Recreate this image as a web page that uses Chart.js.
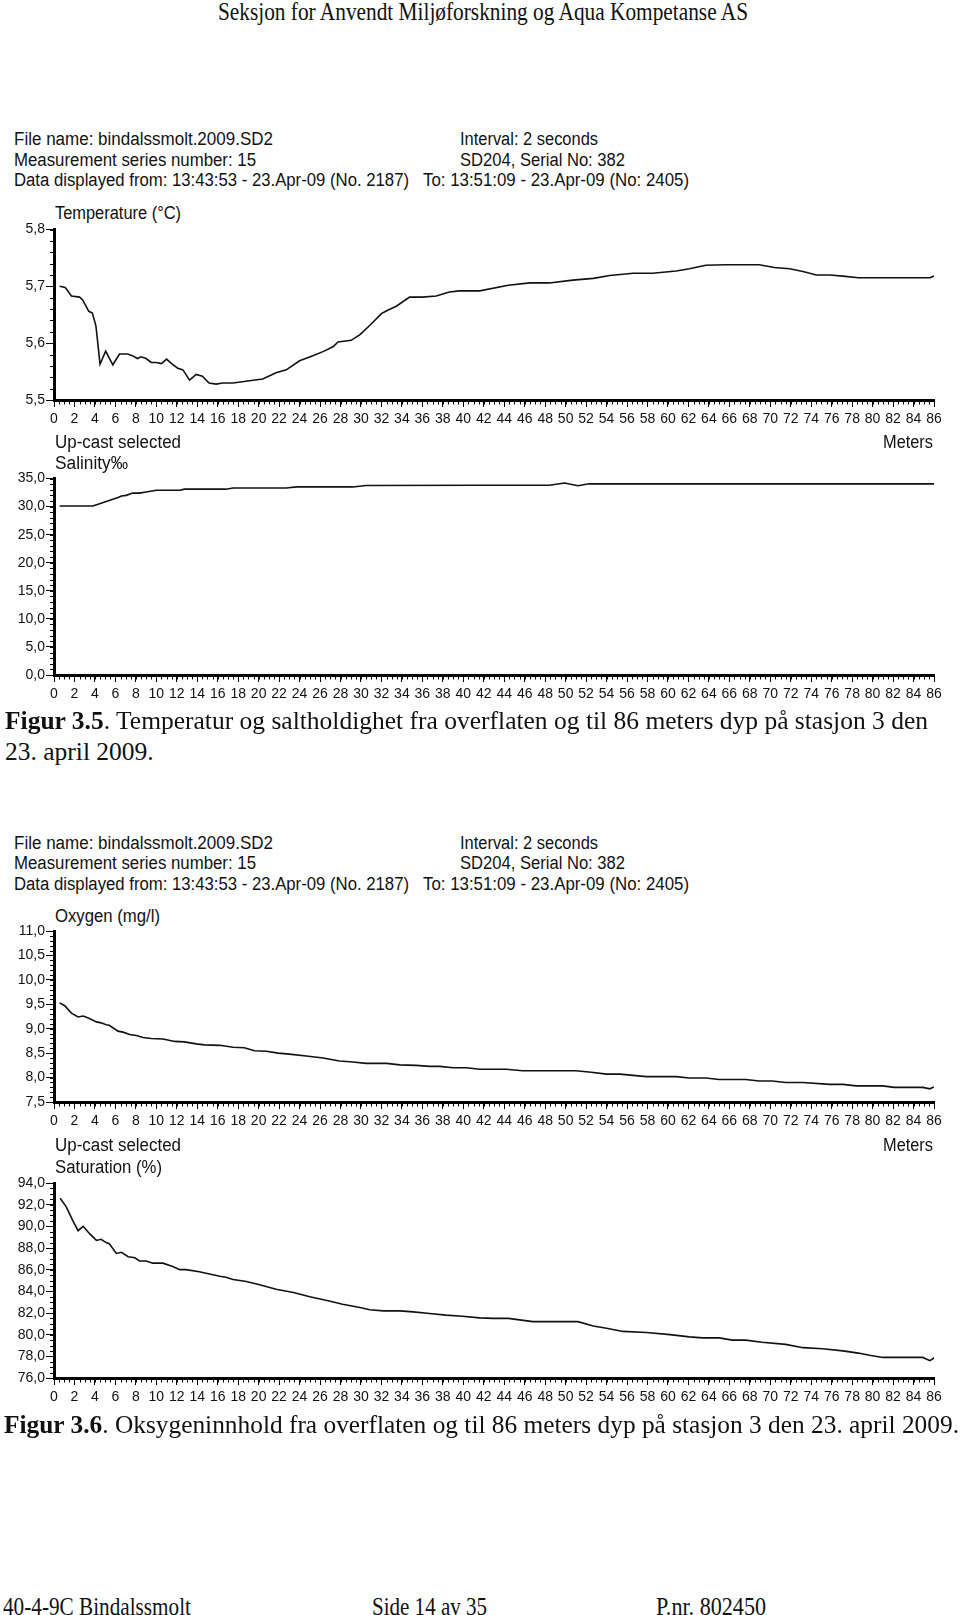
<!DOCTYPE html>
<html>
<head>
<meta charset="utf-8">
<script src="https://cdn.jsdelivr.net/npm/chart.js@4.4.1/dist/chart.umd.min.js"></script>
<style>
body { margin:0; background:#fff; width:960px; height:1615px; position:relative; overflow:hidden;
       font-family:"Liberation Sans", Arial, sans-serif; color:#111; }
.t { position:absolute; white-space:nowrap; font-size:16px; line-height:20px; transform-origin:left center; }
.s { font-family:"Liberation Serif", "Times New Roman", serif; font-size:21px; line-height:26px; }
canvas { position:absolute; left:0; }
</style>
</head>
<body>

<div class="t s" data-w="530" style="left:218px;top:-1px">Seksjon for Anvendt Miljøforskning og Aqua Kompetanse AS</div>

<!-- info block 1 -->
<div class="t" data-w="259" style="left:14px;top:129px">File name: bindalssmolt.2009.SD2</div>
<div class="t" data-w="242" style="left:14px;top:150px">Measurement series number: 15</div>
<div class="t" data-w="395" style="left:14px;top:170px">Data displayed from: 13:43:53 - 23.Apr-09 (No. 2187)</div>
<div class="t" data-w="138" style="left:460px;top:129px">Interval: 2 seconds</div>
<div class="t" data-w="165" style="left:460px;top:150px">SD204, Serial No: 382</div>
<div class="t" data-w="266" style="left:423px;top:170px">To: 13:51:09 - 23.Apr-09 (No: 2405)</div>

<div class="t" data-w="126" style="left:55px;top:203px">Temperature (°C)</div>
<canvas id="temp"></canvas>

<div class="t" data-w="126" style="left:55px;top:432px">Up-cast selected</div>
<div class="t" data-w="73" style="left:55px;top:453px">Salinity‰</div>
<div class="t" data-w="50" style="left:883px;top:432px">Meters</div>
<canvas id="sal"></canvas>

<div class="t s" id="cap1" data-w="923" style="left:5px;top:708px"><b>Figur 3.5</b>. Temperatur og saltholdighet fra overflaten og til 86 meters dyp på stasjon 3 den</div>
<div class="t s" id="cap1b" style="left:5px;top:739px">23. april 2009.</div>

<!-- info block 2 -->
<div class="t" data-w="259" style="left:14px;top:833px">File name: bindalssmolt.2009.SD2</div>
<div class="t" data-w="242" style="left:14px;top:853px">Measurement series number: 15</div>
<div class="t" data-w="395" style="left:14px;top:874px">Data displayed from: 13:43:53 - 23.Apr-09 (No. 2187)</div>
<div class="t" data-w="138" style="left:460px;top:833px">Interval: 2 seconds</div>
<div class="t" data-w="165" style="left:460px;top:853px">SD204, Serial No: 382</div>
<div class="t" data-w="266" style="left:423px;top:874px">To: 13:51:09 - 23.Apr-09 (No: 2405)</div>

<div class="t" data-w="105" style="left:55px;top:906px">Oxygen (mg/l)</div>
<canvas id="oxy"></canvas>

<div class="t" data-w="126" style="left:55px;top:1135px">Up-cast selected</div>
<div class="t" data-w="107" style="left:55px;top:1157px">Saturation (%)</div>
<div class="t" data-w="50" style="left:883px;top:1135px">Meters</div>
<canvas id="sat"></canvas>

<div class="t s" data-w="955" style="left:4px;top:1412px"><b>Figur 3.6</b>. Oksygeninnhold fra overflaten og til 86 meters dyp på stasjon 3 den 23. april 2009.</div>

<div class="t s" data-w="188" style="left:3px;top:1594px">40-4-9C Bindalssmolt</div>
<div class="t s" data-w="115" style="left:372px;top:1594px">Side 14 av 35</div>
<div class="t s" data-w="110" style="left:656px;top:1594px">P.nr. 802450</div>

<script>
const tempDepth = [0.55,1.1,1.7,2.5,2.8,3.4,3.75,4.1,4.5,5.05,5.75,6.4,7.2,7.65,8.15,8.5,9.0,9.5,10.0,10.5,11.0,11.55,12.1,12.6,13.25,13.9,14.5,15.15,15.85,16.5,17.5,19.1,20.4,21.7,22.7,24.0,25.3,26.4,27.3,27.75,29.05,29.9,30.85,32.0,32.6,33.45,34.75,36.0,37.35,38.65,39.6,41.6,44.4,46.5,48.4,50.7,52.7,54.3,56.6,58.5,60.8,62.1,63.7,65.7,68.9,70.4,71.9,73.2,74.5,75.8,77.1,78.6,85.6,86.0];
const tempValues = [5.700,5.698,5.683,5.681,5.676,5.656,5.653,5.630,5.563,5.586,5.562,5.581,5.581,5.578,5.573,5.576,5.573,5.566,5.566,5.564,5.572,5.563,5.556,5.553,5.535,5.545,5.542,5.530,5.528,5.530,5.530,5.534,5.537,5.548,5.553,5.569,5.578,5.586,5.594,5.602,5.605,5.615,5.631,5.652,5.658,5.665,5.681,5.681,5.683,5.690,5.692,5.692,5.702,5.706,5.706,5.711,5.714,5.719,5.723,5.723,5.727,5.731,5.737,5.738,5.738,5.733,5.731,5.726,5.720,5.720,5.718,5.715,5.715,5.718];

const salDepth = [0.55,3.8,4.45,5.4,6.25,6.6,7.05,7.7,8.35,9.0,10.0,12.3,12.75,16.8,17.5,22.7,23.7,29.2,30.5,41.6,48.4,49.9,51.2,52.3,86.0];
const salValues = [30.1,30.1,30.5,31.1,31.6,31.9,32.0,32.4,32.4,32.6,32.9,32.9,33.1,33.1,33.3,33.3,33.5,33.5,33.75,33.8,33.8,34.2,33.7,34.05,34.05];

const oxyDepth = [0.55,1.05,1.7,2.35,2.85,3.35,4.15,4.6,5.1,5.4,6.25,6.75,7.4,8.05,8.7,9.5,10.65,11.8,12.75,13.9,14.7,16.2,17.5,18.6,19.6,20.75,21.9,23.0,24.65,26.3,27.9,29.2,30.5,32.5,33.8,35.4,36.7,37.7,39.0,40.3,41.6,44.2,45.8,51.0,52.5,54.0,55.3,57.9,60.8,62.1,63.7,65.0,67.6,68.9,70.2,71.5,73.2,75.8,77.1,78.4,81.0,82.1,84.9,85.6,86.0];
const oxyValues = [9.53,9.47,9.32,9.24,9.26,9.22,9.14,9.12,9.08,9.07,8.95,8.93,8.88,8.86,8.82,8.80,8.79,8.74,8.73,8.69,8.67,8.66,8.62,8.61,8.55,8.54,8.50,8.48,8.44,8.40,8.34,8.32,8.29,8.29,8.26,8.25,8.23,8.23,8.20,8.20,8.17,8.17,8.14,8.14,8.11,8.07,8.07,8.02,8.02,7.99,7.99,7.96,7.96,7.93,7.93,7.90,7.90,7.86,7.86,7.83,7.83,7.80,7.80,7.77,7.81];

const satDepth = [0.6,1.2,1.8,2.35,2.85,3.5,4.15,4.6,5.1,5.4,6.1,6.6,7.25,7.9,8.35,9.0,9.65,10.65,11.6,12.3,12.9,14.2,15.2,16.2,16.8,17.5,18.8,20.1,21.7,23.4,25.0,26.9,28.2,29.9,30.85,32.2,33.8,35.1,36.7,38.3,39.9,41.6,42.9,44.4,46.8,51.2,52.7,54.0,55.6,57.9,60.2,62.1,63.4,65.0,66.3,67.6,69.2,71.5,73.2,75.1,77.1,78.6,79.7,81.0,84.9,85.6,86.1];
const satValues = [92.6,91.8,90.6,89.6,90.0,89.3,88.7,88.8,88.5,88.4,87.5,87.6,87.2,87.1,86.8,86.8,86.6,86.6,86.3,86.0,86.0,85.8,85.6,85.4,85.3,85.1,84.9,84.6,84.2,83.9,83.5,83.1,82.8,82.5,82.3,82.2,82.2,82.1,81.95,81.8,81.7,81.55,81.5,81.5,81.2,81.2,80.8,80.6,80.3,80.2,80.0,79.8,79.7,79.7,79.5,79.5,79.3,79.1,78.8,78.7,78.5,78.3,78.1,77.9,77.9,77.6,77.9];

// axis ranges: [min, max, major step, minor step]
const depthAxis = [0, 86, 2, 0.5];
const tempAxis = [5.5, 5.8, 0.1, 0.02];
const salAxis = [0, 35, 5, 1];
const oxyAxis = [7.5, 11, 0.5, 0.1];
const satAxis = [76, 94, 2, 0.5];

// scale texts to the widths in the scan (page is a bit stretched vertically)
function fit(el, w) {
  const r = w / el.getBoundingClientRect().width;
  el.style.transform = 'scale(' + r + ',1.15)';
  return r;
}
document.querySelectorAll('[data-w]').forEach(el => fit(el, +el.dataset.w));
document.getElementById('cap1b').style.transform = document.getElementById('cap1').style.transform;

Chart.defaults.font.family = '"Liberation Sans", Arial, sans-serif';
Chart.defaults.font.size = 14;
Chart.defaults.color = '#111';

// small ticks between the labelled ones
const minorTicks = {
  id: 'minorTicks',
  afterDraw(chart, args, opts) {
    const { ctx, scales: { x, y } } = chart;
    ctx.save();
    ctx.strokeStyle = '#000';
    ctx.lineWidth = 1;
    let n = Math.round((x.max - x.min) / opts.x);
    for (let i = 0; i <= n; i++) {
      const p = Math.round(x.getPixelForValue(x.min + i * opts.x)) + 0.5;
      ctx.beginPath(); ctx.moveTo(p, x.top); ctx.lineTo(p, x.top + 4.5); ctx.stroke();
    }
    n = Math.round((y.max - y.min) / opts.y);
    for (let i = 0; i <= n; i++) {
      const p = Math.round(y.getPixelForValue(y.min + i * opts.y)) + 0.5;
      ctx.beginPath(); ctx.moveTo(y.right, p); ctx.lineTo(y.right - 4, p); ctx.stroke();
    }
    ctx.restore();
  }
};

function profile(id, top, areaTop, areaBottom, depth, values, axis) {
  const cv = document.getElementById(id);
  cv.width = 960;
  cv.height = Math.round(areaBottom + 34 - top);
  cv.style.top = top + 'px';
  return new Chart(cv, {
    type: 'line',
    data: {
      datasets: [{
        data: depth.map((d, i) => ({ x: d, y: values[i] })),
        borderColor: '#111',
        borderWidth: 1.6,
        pointRadius: 0,
        tension: 0,
        fill: false
      }]
    },
    options: {
      responsive: false,
      animation: false,
      layout: { padding: { top: areaTop - top, right: 26, left: 0, bottom: 0 } },
      plugins: {
        legend: { display: false },
        tooltip: { enabled: false },
        minorTicks: { x: depthAxis[3], y: axis[3] }
      },
      scales: {
        x: {
          type: 'linear', min: depthAxis[0], max: depthAxis[1],
          afterFit: s => { s.height = 34; },
          border: { color: '#000', width: 3 },
          grid: { drawOnChartArea: false, tickLength: 7, tickColor: '#000', tickWidth: 1 },
          ticks: { stepSize: depthAxis[2], autoSkip: false, maxRotation: 0, padding: 4 }
        },
        y: {
          type: 'linear', min: axis[0], max: axis[1],
          afterFit: s => { s.width = 54; },
          border: { color: '#000', width: 3 },
          grid: { drawOnChartArea: false, tickLength: 8, tickColor: '#000', tickWidth: 1 },
          ticks: { stepSize: axis[2], padding: 1, callback: v => v.toFixed(1).replace('.', ',') }
        }
      }
    },
    plugins: [minorTicks]
  });
}

profile('temp', 200, 229.5, 400, tempDepth, tempValues, tempAxis);
profile('sal', 460, 478.5, 675, salDepth, salValues, salAxis);
profile('oxy', 918, 931, 1102, oxyDepth, oxyValues, oxyAxis);
profile('sat', 1168, 1183, 1378, satDepth, satValues, satAxis);
</script>
</body>
</html>
